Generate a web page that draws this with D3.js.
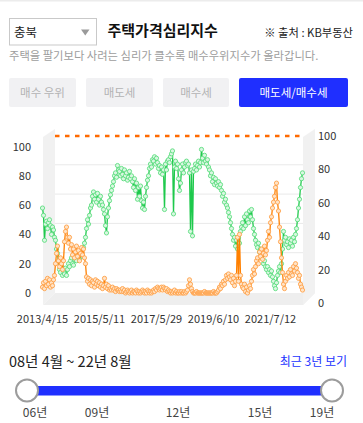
<!DOCTYPE html>
<html><head><meta charset="utf-8">
<script src="https://cdn.jsdelivr.net/npm/d3@7"></script>
<style>
html,body{margin:0;padding:0;background:#fff;}
svg{display:block;font-family:"Noto Sans CJK KR","Noto Sans",sans-serif;}
</style></head>
<body><svg id="c" width="363" height="423"></svg>
<script>
// ---- data ----
const tickLabels = ["2013/4/15","2015/5/11","2017/5/29","2019/6/10","2021/7/12"];
const tickIndex = [0,57,114,171,228];
const leftTicks = [0,20,40,60,80,100];
const rightTicks = [0,20,40,60,80,100];
const refLine = 100;
const greenVals = [
58,53,36,47,49,44,48,50,46,40,45,43,38,
36,30,27,22,
16,14,18,12,15,13,17,12,
16,20,18,22,24,20,19,23,26,22,28,25,23,
26,28,25,31,34,
38,44,50,47,53,
58,60,66,69,64,
67,62,68,64,60,66,62,
60,57,54,46,41,52,58,63,67,70,73,76,80,82,79,87,84,
83,80,85,81,78,84,80,82,77,79,83,78,80,
76,72,78,70,75,64,72,66,73,63,58,62,57,66,72,
77,80,85,88,86,91,
90,93,88,92,89,
85,87,82,86,81,84,
57,
88,84,90,91,89,93,95,
97,54,
86,90,85,88,78,70,75,84,88,82,86,89,
90,87,88,
82,42,84,39,
83,85,88,84,87,90,86,89,
98,
92,89,94,90,88,91,86,
84,80,82,76,79,74,78,75,
73,76,72,74,70,66,68,
62,64,60,58,55,52,
48,44,40,36,38,
32,36,30,38,34,42,45,
48,44,52,46,54,50,48,56,52,57,50,
44,40,36,33,31,
34,28,30,24,26,20,22,18,16,
18,14,16,12,15,11,
8,5,3,7,
12,15,18,14,20,
30,42,
36,38,33,35,31,37,34,36,32,38,35,40,
44,50,58,64,
72,78,82];
const orangeVals = [
4,7,3,8,5,10,6,9,4,7,5,9,
12,20,27,32,22,
18,24,20,16,22,
35,42,45,38,
34,38,30,33,
26,30,24,28,32,25,29,22,27,31,26,
30,24,20,11,
8,10,6,9,5,8,7,4,9,6,8,5,7,
4,6,3,5,10,4,6,3,5,2,
3,2,4,2,3,1,3,2,2,1,
2,1,3,1,2,0,1,2,1,0,
1,2,0,1,1,0,2,1,0,1,
0,1,2,1,0,1,0,2,1,0,
1,0,1,2,1,3,2,4,3,2,
3,4,2,
4,3,2,3,1,2,1,
0,1,0,1,2,0,1,0,0,1,0,1,0,0,1,0,1,
2,5,9,6,3,1,
0,0,0,1,0,0,0,0,0,0,0,1,0,0,0,0,0,0,0,0,1,0,0,0,
1,2,4,3,6,5,8,6,9,
12,10,13,11,9,12,
7,10,5,8,
12,38,8,40,
12,6,4,
3,6,1,4,0,2,5,3,8,
12,16,13,18,22,
24,20,28,25,30,23,27,32,26,29,
36,42,38,48,52,
58,62,66,72,75,
62,56,45,35,
24,14,6,3,
8,12,10,14,11,16,13,12,
18,15,20,17,14,
10,12,6,4,2];
const regions = ["충북"];
const buttons = ["매수 우위","매도세","매수세","매도세/매수세"];
const sliderTicks = ["06년","09년","12년","15년","19년"];

// ---- drawing ----
const svg = d3.select("#c");
const N = greenVals.length;
const x = d3.scaleLinear().domain([0, N-1]).range([42.5, 302.5]);
const y = d3.scaleLinear().domain([0,100]).range([293, 146.5]);
const yR = d3.scaleLinear().domain([0,100]).range([303, 136]);

// top rule
svg.append("rect").attr("x",0).attr("y",0).attr("width",363).attr("height",1.5).attr("fill","#ececec");

// select box
svg.append("rect").attr("x",9.5).attr("y",18.5).attr("width",87).attr("height",26.5)
  .attr("fill","#fff").attr("stroke","#c9c9c9");
svg.append("text").attr("x",14).attr("y",36.5).attr("font-size",12.5).attr("fill","#222").text(regions[0]);
svg.append("path").attr("d","M81,29.5 L89.5,29.5 L85.25,35.5 Z").attr("fill","#9a9a9a");

// title
svg.append("text").attr("x",107.5).attr("y",36).attr("font-size",15).attr("font-weight","bold").attr("fill","#111").text("주택가격심리지수");
svg.append("text").attr("x",353).attr("y",37).attr("text-anchor","end").attr("font-size",11.3).attr("fill","#222").text("※ 출처 : KB부동산");
svg.append("text").attr("x",9).attr("y",59.5).attr("font-size",11.3).attr("fill","#9d9d9d").text("주택을 팔기보다 사려는 심리가 클수록 매수우위지수가 올라갑니다.");

// buttons
const btnX = [9,86,163,239], btnW = [67,67,66,109];
buttons.forEach((b,i)=>{
  const active = i===3;
  svg.append("rect").attr("x",btnX[i]).attr("y",78).attr("width",btnW[i]).attr("height",29).attr("rx",2)
    .attr("fill", active?"#1f2fff":"#f1f1f3");
  svg.append("text").attr("x",btnX[i]+btnW[i]/2).attr("y",97).attr("text-anchor","middle")
    .attr("font-size",11.5).attr("fill", active?"#fff":"#b3b3b3").text(b);
});

// 3D frame
const wall = "#f1f1f1";
svg.append("path").attr("d","M43,137 L55,129 L55,293 L43,305 Z").attr("fill",wall);
svg.append("path").attr("d","M43,305 L55,293 L315,293 L303,305 Z").attr("fill","#eeeeee");
svg.append("path").attr("d","M303,137 L315,129 L315,293 L303,305 Z").attr("fill",wall);

// gridlines
svg.append("g").selectAll("line").data(leftTicks.slice(0,5)).join("line")
  .attr("x1",55).attr("x2",303).attr("y1",d=>y(d)-11).attr("y2",d=>y(d)-11)
  .attr("stroke","#e9e9e9").attr("stroke-width",1);
svg.append("line").attr("x1",55).attr("x2",303).attr("y1",y(refLine)-10.5).attr("y2",y(refLine)-10.5)
  .attr("stroke","#ff6a00").attr("stroke-width",2.4).attr("stroke-dasharray","4.5,5.5");

// axes
const axL = svg.append("g").attr("transform","translate(31,0)")
  .call(d3.axisLeft(y).tickValues(leftTicks).tickSize(0).tickPadding(0));
const axR = svg.append("g").attr("transform","translate(318,0)")
  .call(d3.axisRight(yR).tickValues(rightTicks).tickSize(0).tickPadding(0));
const axB = svg.append("g").attr("transform","translate(0,315)")
  .call(d3.axisBottom(x).tickValues(tickIndex).tickSize(0).tickPadding(0).tickFormat((d,i)=>tickLabels[i]));
[axL,axR,axB].forEach(g=>{
  g.select(".domain").remove();
  g.selectAll("text").attr("font-size",11).attr("fill","#333")
   .attr("font-family",'"Noto Sans CJK KR","Noto Sans",sans-serif');
});
axB.selectAll("text").attr("x",-0.5);

// series
function series(vals, lineColor, mStroke, mFill){
  const line = d3.line().x((d,i)=>x(i)).y(d=>y(d));
  svg.append("path").datum(vals).attr("d",line).attr("fill","none")
    .attr("stroke",lineColor).attr("stroke-width",1.3).attr("stroke-linejoin","round");
  svg.append("g").selectAll("circle").data(vals).join("circle")
    .attr("cx",(d,i)=>x(i)).attr("cy",d=>y(d)).attr("r",2.1)
    .attr("fill",mFill).attr("stroke",mStroke).attr("stroke-width",0.9);
}
series(greenVals, "#1ec94c", "#5ede80", "#d9f7e1");
series(orangeVals, "#ff8000", "#ffa24a", "#ffe3c6");

// bottom range
svg.append("text").attr("x",9).attr("y",367).attr("font-size",14.5).attr("fill","#222").text("08년 4월 ~ 22년 8월");
svg.append("text").attr("x",347).attr("y",366).attr("text-anchor","end").attr("font-size",12).attr("fill","#2233ff").text("최근 3년 보기");

const sx = d3.scaleLinear().domain([0,1]).range([27,332]);
svg.append("rect").attr("x",sx(0)).attr("y",386).attr("width",sx(1)-sx(0)).attr("height",9.5).attr("fill","#1f2fff");
[0,1].forEach(t=>{
  svg.append("circle").attr("cx",sx(t)).attr("cy",390.5).attr("r",11)
    .attr("fill","#fff").attr("stroke","#9c9c9c").attr("stroke-width",2);
});
const sliderTickX = [35,97,178,260,322];
svg.append("g").selectAll("text").data(sliderTicks).join("text")
  .attr("x",(d,i)=>sliderTickX[i]).attr("y",417).attr("text-anchor","middle")
  .attr("font-size",12).attr("fill","#444").text(d=>d);
</script></body></html>
